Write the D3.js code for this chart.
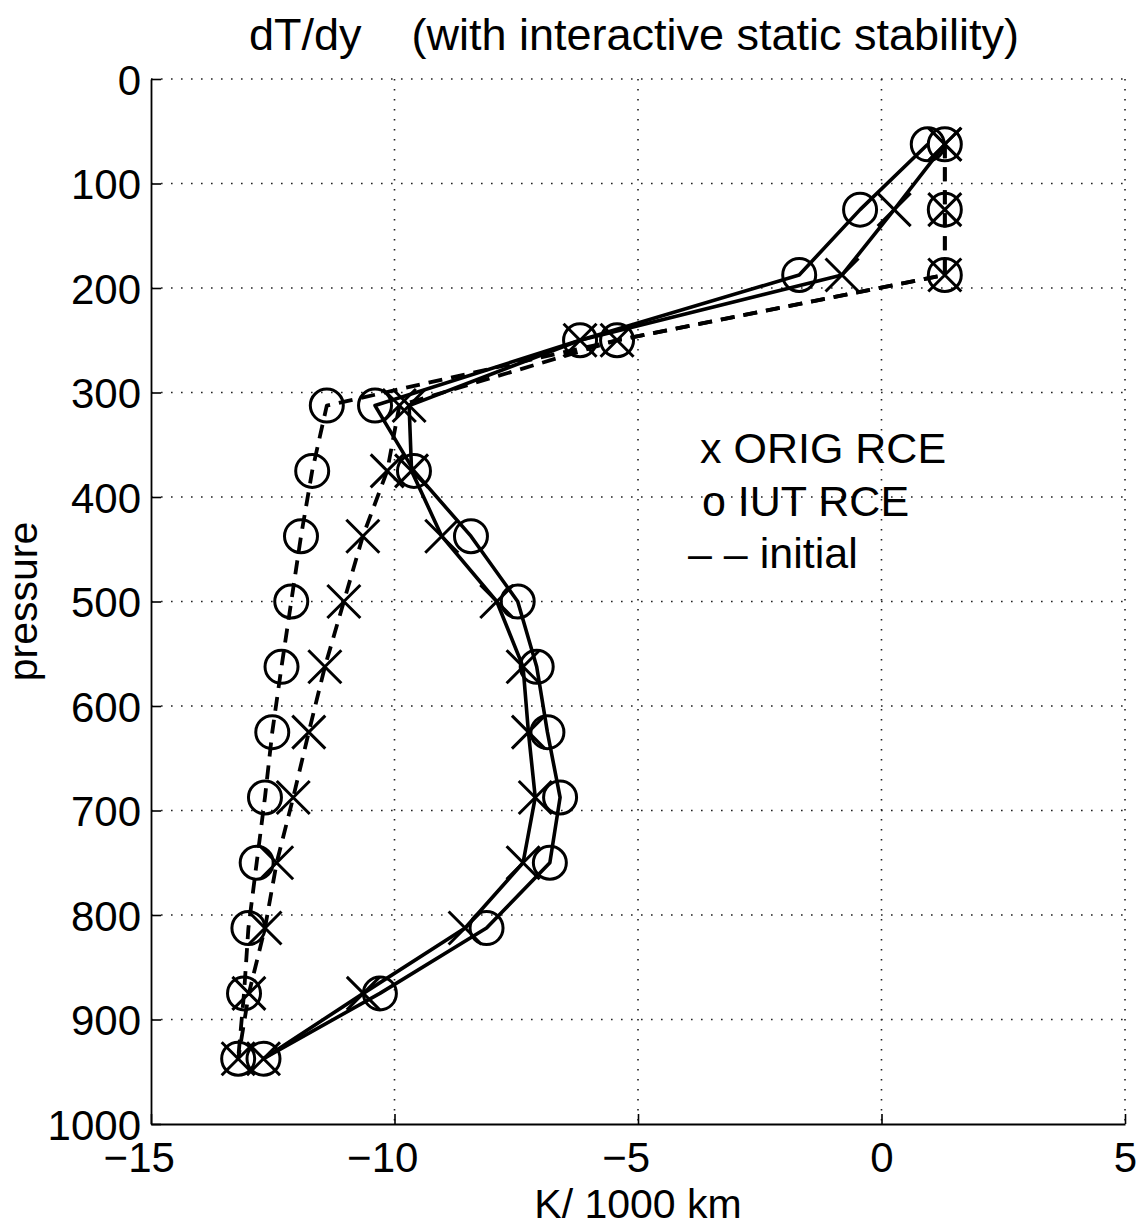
<!DOCTYPE html>
<html>
<head>
<meta charset="utf-8">
<script src="https://cdn.jsdelivr.net/npm/d3@7"></script>
<style>
  html, body { margin: 0; padding: 0; background: #fff; }
  svg text { font-family: "Liberation Sans", Arial, Helvetica, sans-serif; fill: #000; }
</style>
</head>
<body>
<svg id="chart" width="1142" height="1226"></svg>
<script>
// Pressure levels (hPa) of the model layers
const levels = [62.5, 125, 187.5, 250, 312.5, 375, 437.5, 500, 562.5, 625, 687.5, 750, 812.5, 875, 937.5];

// Meridional temperature gradient dT/dy (K / 1000 km) at each level
const origFinal = [1.30, 0.26, -0.81, -6.19, -9.70, -9.65, -9.03, -7.90, -7.36, -7.25, -7.11, -7.36, -8.55, -10.64, -12.69];
const iutFinal  = [0.95, -0.44, -1.69, -6.19, -10.40, -9.60, -8.43, -7.47, -7.08, -6.86, -6.60, -6.81, -8.11, -10.30, -12.69];
const origInit  = [1.30, 1.30, 1.30, -5.43, -9.90, -10.15, -10.65, -11.04, -11.43, -11.76, -12.08, -12.42, -12.66, -12.99, -13.21];
const iutInit   = [1.30, 1.30, 1.30, -5.43, -11.39, -11.69, -11.92, -12.12, -12.32, -12.51, -12.66, -12.83, -13.00, -13.09, -13.21];

// Axis ticks and text
const xTicks = [-15, -10, -5, 0, 5];
const yTicks = [0, 100, 200, 300, 400, 500, 600, 700, 800, 900, 1000];
const titleText = "dT/dy    (with interactive static stability)";
const xLabel = "K/ 1000 km";
const yLabel = "pressure";
const legendLines = ["x ORIG RCE", "o IUT RCE", "\u2013 \u2013 initial"];

const svg = d3.select("#chart");
const plotLeft = 151, plotRight = 1125, plotTop = 79, plotBottom = 1124;

const x = d3.scaleLinear().domain([-15, 5]).range([plotLeft, plotRight]);
const y = d3.scaleLinear().domain([0, 1000]).range([plotTop, plotBottom]);

// Dotted grid
const grid = svg.append("g")
  .attr("stroke", "#222").attr("stroke-width", 1.6)
  .attr("stroke-dasharray", "1.6,8.4").attr("fill", "none");
grid.selectAll("line.gx").data(xTicks.filter(t => t !== -15)).join("line")
  .attr("class", "gx")
  .attr("x1", d => x(d)).attr("x2", d => x(d))
  .attr("y1", plotTop).attr("y2", plotBottom);
grid.selectAll("line.gy").data(yTicks.filter(t => t !== 1000)).join("line")
  .attr("class", "gy")
  .attr("x1", plotLeft).attr("x2", plotRight)
  .attr("y1", d => y(d)).attr("y2", d => y(d));

// Axes: ticks point inward, minus signs hang to the left of centred digits
const axisFont = 42;
const fmt = d3.format("d");
const gx = svg.append("g").attr("transform", `translate(0,${plotBottom})`)
  .call(d3.axisBottom(x).tickValues(xTicks).tickFormat(fmt)
    .tickSizeInner(-10).tickSizeOuter(0).tickPadding(18));
const gy = svg.append("g").attr("transform", `translate(${plotLeft},0)`)
  .call(d3.axisLeft(y).tickValues(yTicks).tickFormat(fmt)
    .tickSizeInner(-10).tickSizeOuter(0).tickPadding(10));

[gx, gy].forEach(g => {
  g.attr("font-family", null).attr("font-size", null);
  g.select(".domain").attr("stroke", "#000").attr("stroke-width", 1.8);
  g.selectAll(".tick line").attr("stroke", "#000").attr("stroke-width", 1.6);
  g.selectAll(".tick text").attr("font-size", axisFont);
});
gy.selectAll(".tick text").attr("dy", "0.36em");

gx.selectAll(".tick text").each(function () {
  const t = this.textContent;
  if (t.startsWith("\u2212") || t.startsWith("-")) {
    const full = this.getComputedTextLength();
    const mw = this.getSubStringLength(0, 1);
    d3.select(this).attr("text-anchor", "start").attr("x", -(mw + (full - mw) / 2));
  }
});

// Series lines
const line = d3.line().x(d => x(d.v)).y(d => y(d.p));
const toPts = vals => vals.map((v, i) => ({ v, p: levels[i] }));

const series = [
  { vals: origInit, marker: "x", dashed: true },
  { vals: iutInit, marker: "o", dashed: true },
  { vals: origFinal, marker: "x", dashed: false },
  { vals: iutFinal, marker: "o", dashed: false }
];

const plot = svg.append("g");
series.forEach(s => {
  plot.append("path")
    .datum(toPts(s.vals))
    .attr("d", line)
    .attr("fill", "none")
    .attr("stroke", "#000")
    .attr("stroke-width", s.dashed ? 3.8 : 3.6)
    .attr("stroke-dasharray", s.dashed ? "14,9" : null)
    .attr("stroke-linejoin", "round");
});

// Markers
const r = 16.5, s = 16.5;
series.forEach(se => {
  const g = plot.append("g").attr("fill", "none").attr("stroke", "#000").attr("stroke-width", 3);
  const pts = toPts(se.vals);
  if (se.marker === "o") {
    g.selectAll("circle").data(pts).join("circle")
      .attr("cx", d => x(d.v)).attr("cy", d => y(d.p)).attr("r", r);
  } else {
    g.selectAll("path").data(pts).join("path")
      .attr("transform", d => `translate(${x(d.v)},${y(d.p)})`)
      .attr("d", `M${-s},${-s}L${s},${s}M${-s},${s}L${s},${-s}`);
  }
});

// Title and axis labels
svg.append("text")
  .attr("x", 634).attr("y", 50)
  .attr("text-anchor", "middle")
  .attr("font-size", 45)
  .style("white-space", "pre")
  .text(titleText);

svg.append("text")
  .attr("x", (plotLeft + plotRight) / 2).attr("y", 1218)
  .attr("text-anchor", "middle")
  .attr("font-size", 41)
  .text(xLabel);

svg.append("text")
  .attr("transform", `translate(37,${(plotTop + plotBottom) / 2}) rotate(-90)`)
  .attr("text-anchor", "middle")
  .attr("font-size", 41)
  .text(yLabel);

// Text legend
const legendPos = [[700, 463], [702, 516], [688, 568]];
svg.append("g").selectAll("text").data(legendLines).join("text")
  .attr("x", (d, i) => legendPos[i][0])
  .attr("y", (d, i) => legendPos[i][1])
  .attr("font-size", 43)
  .style("white-space", "pre")
  .text(d => d);
</script>
</body>
</html>
